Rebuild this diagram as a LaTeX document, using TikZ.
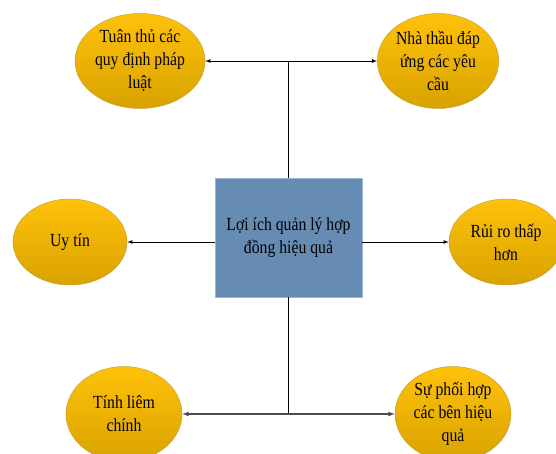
\documentclass[tikz,border=0pt]{standalone}
\usepackage{fontspec}
\setmainfont{Liberation Serif}[FakeStretch=0.85]
\usepackage{tikz}
\usetikzlibrary{arrows,shapes,positioning,calc}
\usepackage{xcolor}
\definecolor{boxblue}{HTML}{668CB4}
\definecolor{boxedge}{HTML}{9DB6D3}
\definecolor{goldtop}{HTML}{FFC20A}
\definecolor{goldbot}{HTML}{D8A200}
\definecolor{goldedge}{HTML}{C9A23A}

\tikzset{
    benefit/.style={ellipse, draw=goldedge, line width=0.5pt,
        top color=goldtop, bottom color=goldbot,
        minimum width=116pt, minimum height=95pt, inner sep=1pt,
        align=center, font=\fontsize{18.5}{23}\selectfont},
    mainbox/.style={rectangle, draw=boxedge, line width=0.8pt, fill=boxblue,
        minimum width=147pt, minimum height=119pt, align=center,
        font=\fontsize{18.5}{23}\selectfont},
    link/.style={black, line width=0.8pt}
}

\begin{document}
\begin{tikzpicture}[x=1pt, y=1pt, >=latex]
    \useasboundingbox (0,0) rectangle (556,453);

    % Central box
    \node[mainbox] (core) at (288.5, 215.5) {Lợi ích quản lý hợp\\đồng hiệu quả};

    % Top row
    \node[benefit] (tuanthu) at (140, 392) {Tuân thủ các\\quy định pháp\\luật};
    \node[benefit] (nhathau) at (438, 392) {Nhà thầu đáp\\ứng các yêu\\cầu};

    % Middle row
    \node[benefit, minimum width=114pt, minimum height=86pt] (uytin) at (70, 211) {Uy tín};
    \node[benefit, minimum width=114pt, minimum height=86pt] (ruiro) at (506, 211) {Rủi ro thấp\\hơn};

    % Bottom row
    \node[benefit] (liemchinh) at (124, 39) {Tính liêm\\chính};
    \node[benefit] (phoihop) at (453, 39) {Sự phối hợp\\các bên hiệu\\quả};

    % Connectors
    \draw[link] (core.north) -- (core.north |- tuanthu.east);
    \draw[link, <->] (tuanthu.east) -- (nhathau.west);
    \draw[link, ->] (core.west |- uytin.east) -- (uytin.east);
    \draw[link, ->] (core.east |- ruiro.west) -- (ruiro.west);
    \draw[link] (core.south) -- (core.south |- liemchinh.east);
    \draw[link, black!70, line width=1.2pt, <->] (liemchinh.east) -- (phoihop.west);
\end{tikzpicture}
\end{document}
